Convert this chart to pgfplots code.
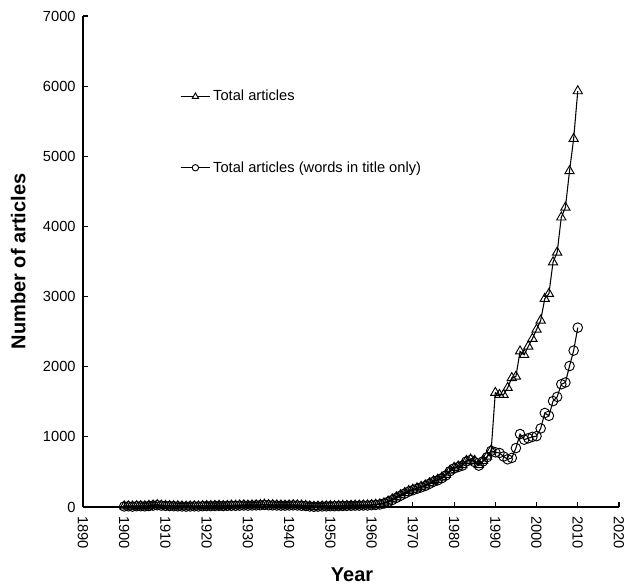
\documentclass[border=0pt]{standalone}
\usepackage{pgfplots}
\pgfplotsset{compat=1.18}
\usepackage{pgfplotstable}
\usepackage{fontspec}
\setmainfont{Liberation Sans}

% year, all articles, articles with the words in the title only
\pgfplotstableread{
year total title
1900 10 8
1901 12 10
1902 8 6
1903 14 12
1904 14 12
1905 12 10
1906 18 14
1907 24 20
1908 30 26
1909 22 20
1910 18 16
1911 15 14
1912 14 12
1913 12 10
1914 10 8
1915 8 6
1916 10 8
1917 12 10
1918 10 8
1919 14 12
1920 16 14
1921 15 13
1922 18 15
1923 20 16
1924 16 14
1925 18 16
1926 22 18
1927 20 18
1928 24 20
1929 26 22
1930 22 20
1931 25 22
1932 28 24
1933 30 26
1934 35 30
1935 30 26
1936 28 24
1937 26 22
1938 24 20
1939 22 20
1940 25 22
1941 28 24
1942 26 22
1943 22 18
1944 18 15
1945 10 8
1946 5 4
1947 8 6
1948 10 8
1949 12 10
1950 14 12
1951 15 12
1952 16 14
1953 18 15
1954 18 16
1955 20 18
1956 22 20
1957 22 20
1958 24 22
1959 25 22
1960 30 26
1961 35 30
1962 40 36
1963 55 50
1964 80 72
1965 110 100
1966 140 130
1967 170 160
1968 200 190
1969 230 220
1970 250 240
1971 270 260
1972 290 280
1973 310 300
1974 340 330
1975 370 360
1976 390 380
1977 420 410
1978 460 450
1979 520 510
1980 560 550
1981 580 570
1982 600 590
1983 660 650
1984 680 670
1985 660 640
1986 600 590
1987 660 650
1988 720 710
1989 810 800
1990 1630 780
1991 1600 770
1992 1600 720
1993 1700 680
1994 1840 700
1995 1860 840
1996 2220 1040
1997 2170 960
1998 2290 980
1999 2400 1000
2000 2530 1010
2001 2660 1120
2002 2970 1340
2003 3040 1300
2004 3490 1510
2005 3630 1570
2006 4130 1750
2007 4270 1775
2008 4790 2010
2009 5250 2230
2010 5930 2557
}\articles

\begin{document}
\begin{tikzpicture}
\path[use as bounding box] (-62.25pt,-57.75pt) rectangle (405.75pt,380.25pt);
\begin{axis}[
  scale only axis,
  width=402pt, height=368.25pt,
  at={(0,0)}, anchor=south west,
  xmin=1890, xmax=2020,
  ymin=0, ymax=7000,
  xtick={1890,1900,...,2020},
  ytick={0,1000,...,7000},
  axis x line=bottom, axis y line=left,
  axis line style={-, line width=1pt},
  tick align=inside,
  major tick length=4pt,
  tick style={line width=0.8pt, black},
  /pgf/number format/1000 sep={},
  /pgf/number format/assume math mode=true,
  ticklabel style={font=\fontsize{11}{13}\selectfont},
  xticklabel={\rotatebox{-90}{\pgfmathprintnumber{\tick}}},
  xticklabel style={anchor=north, yshift=-3.5pt},
  yticklabel style={xshift=-2pt},
  xlabel={Year},
  ylabel={Number of articles},
  xlabel style={font=\fontsize{15}{17}\selectfont\bfseries,
    at={(axis description cs:0.502,-0.1385)}, anchor=center},
  ylabel style={font=\fontsize{15}{17}\selectfont\bfseries,
    at={(axis description cs:-0.121,0.5)}, anchor=center, rotate=0},
  legend cell align=left,
  legend style={draw=none, fill=none, inner sep=0pt,
    font=\fontsize{11}{13}\selectfont, row sep=40pt,
    at={(axis description cs:0.181,0.855)}, anchor=north west},
]
\addplot[black, line width=0.8pt, mark=triangle, mark size=4pt,
  mark options={line width=0.7pt},
  legend image code/.code={
    \draw[black, line width=0.7pt] (0pt,0pt) -- (22pt,0pt);
    \draw[black, line width=0.7pt, fill=white] (11pt,2.6pt) -- ++(-2.3pt,-4pt) -- ++(4.6pt,0pt) -- cycle;
  }]
  table[x=year, y=total] {\articles};
\addlegendentry{Total articles}
\addplot[black, line width=0.8pt, mark=o, mark size=3.6pt,
  mark options={line width=0.7pt},
  legend image code/.code={
    \draw[black, line width=0.7pt] (0pt,0pt) -- (22pt,0pt);
    \draw[black, line width=0.7pt, fill=white] (11pt,0pt) circle (2.4pt);
  }]
  table[x=year, y=title] {\articles};
\addlegendentry{Total articles (words in title only)}
\end{axis}
\end{tikzpicture}
\end{document}
